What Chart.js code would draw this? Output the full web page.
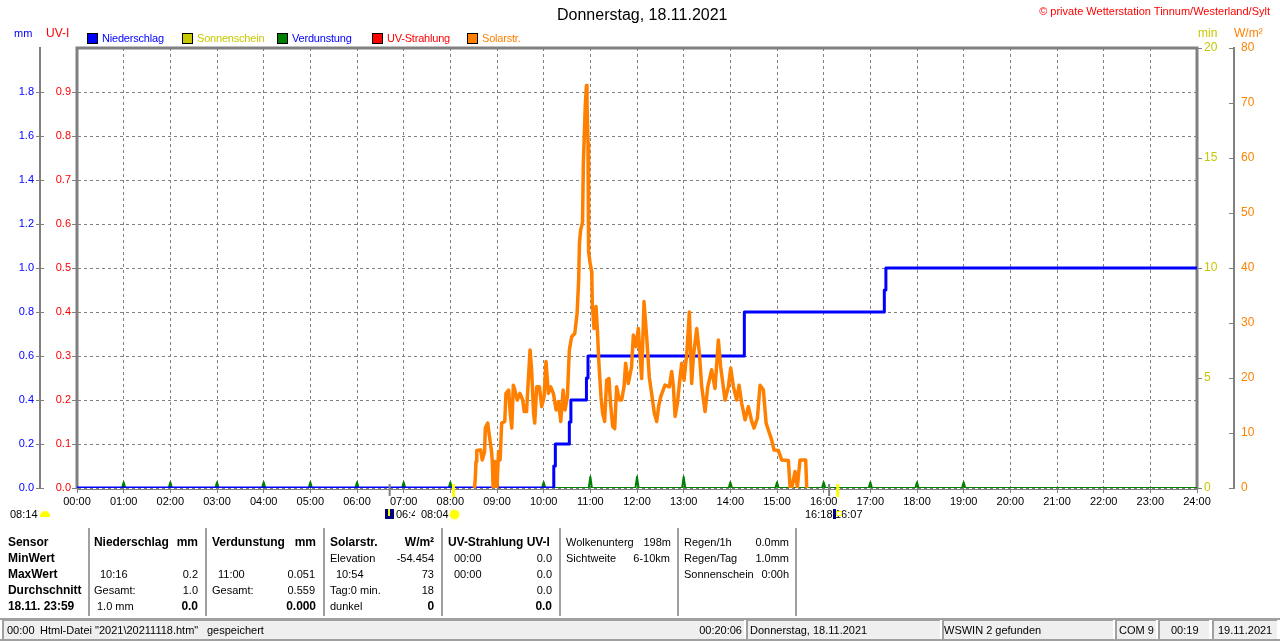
<!DOCTYPE html>
<html>
<head>
<meta charset="utf-8">
<title>Donnerstag, 18.11.2021</title>
<script src="https://cdn.jsdelivr.net/npm/chart.js@4/dist/chart.umd.min.js"></script>
<style>
html, body { margin: 0; padding: 0; background: #fff; overflow: hidden; }
#page { position: relative; width: 1280px; height: 641px; overflow: hidden; font: 11px "Liberation Sans", Arial, sans-serif; color: #000; }
#chart { position: absolute; left: 0; top: 0; }
.t { position: absolute; line-height: 16px; height: 16px; white-space: nowrap; }
.b { font-weight: bold; font-size: 12px; letter-spacing: -0.05px; }
.box { position: absolute; box-sizing: border-box; }
</style>
</head>
<body>
<div id="page"><canvas id="chart" width="1280" height="641"></canvas></div>
<script>
// solar radiation, minutes since midnight / W per m2
const solarMinutes = [511, 512, 513, 514, 519, 521, 524, 525, 528, 531, 533, 534, 535, 537, 537.5, 539, 540, 542, 544, 546, 550, 551.5, 555, 557, 559, 561, 563, 566, 569.5, 573, 575, 578, 580, 582.5, 584.5, 587, 588.5, 591, 594.5, 597.5, 600.5, 603, 606, 609, 612.5, 616, 619, 622, 625, 627.5, 630.5, 633, 636, 640, 643, 645, 646, 647.5, 650, 651, 652, 653.5, 655, 655.7, 657, 657.5, 658, 659.6, 661.7, 662, 662.5, 664.7, 667.3, 669, 671, 673.7, 675.8, 678.4, 681, 684, 686, 688.7, 691.3, 693.8, 697.3, 700.3, 703.3, 705.4, 708.8, 713, 715.3, 718.7, 721.7, 726, 729, 732.4, 735.8, 738.8, 742.3, 745.3, 748, 750.5, 756, 761.6, 764.6, 766.8, 769, 772, 774.5, 777.5, 780.5, 784, 787.3, 790.3, 792.5, 796.8, 800.2, 803.2, 807.5, 811, 816, 820.3, 824.6, 827.6, 833.2, 837.5, 840.5, 844, 848.2, 851.2, 854.6, 859, 863.2, 867.5, 870.5, 874.8, 878.2, 882.5, 886, 889, 893.2, 896.2, 901.8, 906, 914.6, 916.8, 919, 923.2, 926.2, 929.6, 936.9, 938.2];
const solarValues = [0, 1.5, 4.8, 6.8, 6.9, 5.1, 6.6, 10.9, 11.8, 8.7, 6.6, 4.8, 0.2, 0.2, 4.8, 3.3, 0.2, 6.6, 5.1, 11.8, 12.1, 17.2, 17.8, 13.6, 10.9, 18.7, 17.8, 16, 17.2, 16, 13.9, 13.9, 19, 25.1, 21.5, 13.6, 11.8, 18.4, 18.4, 14.8, 16.6, 23, 17.2, 18.4, 17.2, 14.2, 15.7, 12.1, 17.8, 14.2, 16.6, 25.1, 27.5, 28.1, 31.8, 37.8, 44.5, 46.9, 48.4, 59, 63, 69.6, 73.2, 70, 62.7, 50.5, 43, 41, 39.3, 37.8, 33.6, 29, 33, 29, 22.7, 16.6, 13.6, 12.1, 19.6, 19.9, 15.4, 11.2, 10.8, 18.4, 16, 16, 18.4, 22.7, 19, 22, 27.8, 25.7, 29, 19.9, 33.9, 27.5, 20.2, 17.2, 13.6, 12.1, 15, 16.6, 18.7, 18.4, 21.2, 18.4, 13, 15.4, 19, 22.7, 19.6, 24.5, 32, 19, 23.9, 29, 24.5, 18.4, 13.9, 18.4, 21.5, 18.1, 26.9, 22, 16, 18.4, 21.8, 18.4, 16, 18.7, 15.4, 12.4, 14.8, 12.1, 10.9, 12.7, 18.7, 17.8, 11.8, 10.5, 8.7, 6.9, 6.8, 5.1, 5, 0.2, 0, 3, 0.2, 5.1, 5.1, 0];

// rain total in mm
const rainMinutes = [0, 613, 613, 615, 615, 633, 633, 635, 635, 655, 655, 657, 657, 858, 858, 1038, 1038, 1040, 1040, 1440];
const rainValues = [0, 0, 0.1, 0.1, 0.2, 0.2, 0.3, 0.3, 0.4, 0.4, 0.5, 0.5, 0.6, 0.6, 0.8, 0.8, 0.9, 0.9, 1.0, 1.0];

// evaporation per hour in mm
const evapHours = [1, 2, 3, 4, 5, 6, 7, 8, 9, 10, 11, 12, 13, 14, 15, 16, 17, 18, 19];
const evapValues = [0.026, 0.026, 0.026, 0.026, 0.026, 0.026, 0.026, 0.026, 0.026, 0.026, 0.051, 0.051, 0.051, 0.026, 0.026, 0.026, 0.026, 0.026, 0.026];

// tick labels and sun times
const dawnDusk = [402, 967];
const sunTimes = [484, 978];
const legendNames = ['Niederschlag', 'Sonnenschein', 'Verdunstung', 'UV-Strahlung', 'Solarstr.'];
const legendSwatches = ['#0000ff', '#c8c800', '#008000', '#ff0000', '#ff8000'];
const legendText = ['#0000ff', '#c8c800', '#0000ff', '#ff0000', '#ff8000'];

const GRAY = '#808080';

function zip(xs, ys) {
    return xs.map((x, i) => ({ x: x, y: ys[i] }));
}

function evapPoints() {
    const pts = [{ x: 0, y: 0 }];
    evapHours.forEach((h, i) => {
        pts.push({ x: h * 60 - 2, y: 0 }, { x: h * 60, y: evapValues[i] }, { x: h * 60 + 2, y: 0 });
    });
    pts.push({ x: 1440, y: 0 });
    return pts;
}

function hhmm(v) {
    return String(v / 60).padStart(2, '0') + ':00';
}

// plot frame, inner side ticks of the outer axes, sunrise and sunset marks
const frame = {
    id: 'frame',
    beforeDatasetsDraw(chart) {
        const a = chart.chartArea, c = chart.ctx;
        c.save();
        c.strokeStyle = GRAY;
        c.lineWidth = 3;
        c.beginPath();
        c.moveTo(a.left, a.bottom + 1);
        c.lineTo(a.left, a.top);
        c.lineTo(a.right, a.top);
        c.lineTo(a.right, a.bottom + 1);
        c.stroke();
        c.lineWidth = 1;
        c.beginPath();
        c.moveTo(a.left, a.bottom + 1.5);
        c.lineTo(a.right, a.bottom + 1.5);
        c.stroke();
        c.restore();
    },
    afterDatasetsDraw(chart) {
        const c = chart.ctx, x = chart.scales.x, w = chart.scales.w, mm = chart.scales.mm, b = chart.chartArea.bottom;
        c.save();
        c.strokeStyle = GRAY;
        c.lineWidth = 1;
        w.ticks.forEach(t => {
            const y = Math.round(w.getPixelForValue(t.value)) + 0.5;
            c.beginPath();
            c.moveTo(w.left - 5, y);
            c.lineTo(w.left, y);
            c.stroke();
        });
        mm.ticks.forEach(t => {
            if (t.value === 2) return;
            const y = Math.round(mm.getPixelForValue(t.value)) + 0.5;
            c.beginPath();
            c.moveTo(mm.right, y);
            c.lineTo(mm.right + 4, y);
            c.stroke();
        });
        c.lineWidth = 2;
        dawnDusk.forEach(m => {
            c.beginPath();
            c.moveTo(x.getPixelForValue(m), b - 4);
            c.lineTo(x.getPixelForValue(m), b + 8);
            c.stroke();
        });
        c.lineWidth = 3;
        c.strokeStyle = '#ffff00';
        sunTimes.forEach(m => {
            c.beginPath();
            c.moveTo(x.getPixelForValue(m), b - 4);
            c.lineTo(x.getPixelForValue(m), b + 9);
            c.stroke();
        });
        c.restore();
    }
};

new Chart(document.getElementById('chart'), {
    type: 'line',
    plugins: [frame],
    data: {
        datasets: [
            { label: 'Solarstr.', data: zip(solarMinutes, solarValues), yAxisID: 'w', borderColor: '#ff8000', borderWidth: 3.5, order: 1 },
            { label: 'Niederschlag', data: zip(rainMinutes, rainValues), yAxisID: 'mm', borderColor: '#0000ff', borderWidth: 3, order: 2 },
            { label: 'Verdunstung', data: evapPoints(), yAxisID: 'mm', borderColor: '#008000', borderWidth: 2, order: 3 }
        ]
    },
    options: {
        responsive: false,
        animation: false,
        devicePixelRatio: 1,
        parsing: false,
        normalized: true,
        elements: {
            point: { radius: 0 },
            line: { tension: 0, borderJoinStyle: 'round', fill: false }
        },
        layout: { padding: { top: 48, left: 0, right: 0, bottom: 0 } },
        plugins: { legend: { display: false }, title: { display: false }, tooltip: { enabled: false } },
        scales: {
            x: {
                type: 'linear', min: 0, max: 1440,
                afterFit: s => { s.height = 153; },
                afterBuildTicks: s => { s.ticks = []; for (let m = 0; m <= 1440; m += 60) s.ticks.push({ value: m }); },
                border: { display: false, dash: [3, 3] },
                grid: { color: GRAY, lineWidth: 1, tickLength: 5, tickColor: GRAY },
                ticks: { autoSkip: false, maxRotation: 0, padding: 2, color: '#000', font: { family: 'Liberation Sans', size: 11 }, callback: hhmm }
            },
            mm: {
                type: 'linear', position: 'left', weight: 1, min: 0, max: 2,
                afterFit: s => { s.width = 40; },
                border: { display: true, color: GRAY, width: 2, dash: [3, 3] },
                grid: { color: GRAY, lineWidth: 1, tickLength: 4, tickColor: c => c.tick && c.tick.value === 2 ? 'transparent' : GRAY },
                ticks: { stepSize: 0.2, padding: 2, color: '#0000ff', font: { family: 'Liberation Sans', size: 11 }, callback: v => v === 2 ? '' : v.toFixed(1) }
            },
            uv: {
                type: 'linear', position: 'left', weight: 0, min: 0, max: 1,
                afterFit: s => { s.width = 37; },
                border: { display: false },
                grid: { drawOnChartArea: false, tickLength: 5, tickColor: c => c.tick && c.tick.value === 1 ? 'transparent' : GRAY },
                ticks: { stepSize: 0.1, padding: 1, color: '#ff0000', font: { family: 'Liberation Sans', size: 11 }, callback: v => v === 1 ? '' : v.toFixed(1) }
            },
            min: {
                type: 'linear', position: 'right', weight: 0, min: 0, max: 20,
                afterFit: s => { s.width = 37; },
                border: { display: false },
                grid: { drawOnChartArea: false, tickLength: 5, tickColor: GRAY },
                ticks: { stepSize: 5, padding: 2, color: '#c8c800', font: { family: 'Liberation Sans', size: 12 } }
            },
            w: {
                type: 'linear', position: 'right', weight: 1, min: 0, max: 80,
                afterFit: s => { s.width = 46; },
                border: { display: true, color: GRAY, width: 2 },
                grid: { drawOnChartArea: false, drawTicks: false },
                ticks: { stepSize: 10, padding: 7, color: '#ff8000', font: { family: 'Liberation Sans', size: 12 } }
            }
        }
    }
});

// text and panels around the chart
const page = document.getElementById('page');

function text(s, x, y, opts) {
    const o = opts || {};
    const el = document.createElement('div');
    el.className = 't' + (o.bold ? ' b' : '');
    el.textContent = s;
    if (o.right) el.style.right = (1280 - x) + 'px'; else el.style.left = x + 'px';
    el.style.top = (y - 8) + 'px';
    if (o.color) el.style.color = o.color;
    if (o.size) el.style.fontSize = o.size + 'px';
    if (o.tight) el.style.letterSpacing = o.tight + 'px';
    if (o.clip) { el.style.width = o.clip + 'px'; el.style.overflow = 'hidden'; }
    page.appendChild(el);
}

function box(x, y, w, h, css) {
    const el = document.createElement('div');
    el.className = 'box';
    el.style.cssText = 'left:' + x + 'px;top:' + y + 'px;width:' + w + 'px;height:' + h + 'px;' + (css || '');
    page.appendChild(el);
}

text('Donnerstag, 18.11.2021', 557, 15, { size: 16 });
text('© private Wetterstation Tinnum/Westerland/Sylt', 1270, 11, { right: true, color: '#ff0000', size: 11 });
text('mm', 14, 33, { color: '#0000ff' });
text('UV-I', 46, 33, { color: '#ff0000', size: 12 });
text('min', 1198, 33, { color: '#c8c800', size: 12 });
text('W/m²', 1234, 33, { color: '#ff8000', size: 12 });

const legendX = [87, 182, 277, 372, 467];
legendNames.forEach((n, i) => {
    box(legendX[i], 33, 11, 11, 'background:' + legendSwatches[i] + ';border:1px solid #000;');
    text(n, legendX[i] + 15, 38, { color: legendText[i], tight: -0.2 });
});

// sun rise and set row
text('08:14', 10, 514);
box(40, 511, 10, 6, 'background:#ffff00;border-radius:5px 5px 0 0;');
text('06:42', 396, 514, { clip: 19 });
text('08:04', 421, 514);
box(385, 509, 9, 10, 'background:#000080;');
box(388, 509, 2, 7, 'background:#ffff00;');
box(450, 510, 9, 9, 'background:#ffff00;border-radius:50%;box-shadow:0 0 2px 1px #ffffa0;');
text('16:18', 805, 514);
text('16:07', 835, 514);
box(833, 509, 3, 10, 'background:#000080;');
box(836, 511, 6, 5, 'background:#fff;border:1px solid #ffff00;');

// value table
const panelLines = [88, 205, 323, 441, 559, 677, 795];
panelLines.forEach(x => box(x, 528, 2, 88, 'background:#a0a0a0;'));

const rows = [542, 558, 574, 590, 606];
['Sensor', 'MinWert', 'MaxWert', 'Durchschnitt', '18.11. 23:59'].forEach((s, i) => text(s, 8, rows[i], { bold: true }));

text('Niederschlag', 94, rows[0], { bold: true });
text('mm', 198, rows[0], { bold: true, right: true });
text('10:16', 100, rows[2]);
text('0.2', 198, rows[2], { right: true });
text('Gesamt:', 94, rows[3]);
text('1.0', 198, rows[3], { right: true });
text('1.0 mm', 97, rows[4]);
text('0.0', 198, rows[4], { bold: true, right: true });

text('Verdunstung', 212, rows[0], { bold: true });
text('mm', 316, rows[0], { bold: true, right: true });
text('11:00', 218, rows[2]);
text('0.051', 315, rows[2], { right: true });
text('Gesamt:', 212, rows[3]);
text('0.559', 315, rows[3], { right: true });
text('0.000', 316, rows[4], { bold: true, right: true });

text('Solarstr.', 330, rows[0], { bold: true });
text('W/m²', 434, rows[0], { bold: true, right: true });
text('Elevation', 330, rows[1]);
text('-54.454', 434, rows[1], { right: true });
text('10:54', 336, rows[2]);
text('73', 434, rows[2], { right: true });
text('Tag:0 min.', 330, rows[3]);
text('18', 434, rows[3], { right: true });
text('dunkel', 330, rows[4]);
text('0', 434, rows[4], { bold: true, right: true });

text('UV-Strahlung UV-I', 448, rows[0], { bold: true });
text('00:00', 454, rows[1]);
text('0.0', 552, rows[1], { right: true });
text('00:00', 454, rows[2]);
text('0.0', 552, rows[2], { right: true });
text('0.0', 552, rows[3], { right: true });
text('0.0', 552, rows[4], { bold: true, right: true });

text('Wolkenunterg', 566, rows[0]);
text('198m', 671, rows[0], { right: true });
text('Sichtweite', 566, rows[1]);
text('6-10km', 670, rows[1], { right: true });

text('Regen/1h', 684, rows[0]);
text('0.0mm', 789, rows[0], { right: true });
text('Regen/Tag', 684, rows[1]);
text('1.0mm', 789, rows[1], { right: true });
text('Sonnenschein', 684, rows[2]);
text('0:00h', 789, rows[2], { right: true });

// status bar
box(0, 618, 1280, 2, 'background:#a0a0a0;');
box(0, 639, 1280, 2, 'background:#a0a0a0;');
const barX = [2, 746, 942, 1115, 1158, 1212];
const barW = [742, 194, 171, 41, 51, 65];
barX.forEach((x, i) => box(x, 620, barW[i], 19, 'background:#efefef;border-left:2px solid #a0a0a0;border-top:1px solid #a0a0a0;'));
text('00:00', 7, 630);
text('Html-Datei', 40, 630);
text('"2021\\20211118.htm"', 95, 630);
text('gespeichert', 207, 630);
text('00:20:06', 742, 630, { right: true });
text('Donnerstag, 18.11.2021', 750, 630);
text('WSWIN 2 gefunden', 944, 630);
text('COM 9', 1119, 630);
text('00:19', 1171, 630);
text('19.11.2021', 1218, 630);
</script>
</body>
</html>
